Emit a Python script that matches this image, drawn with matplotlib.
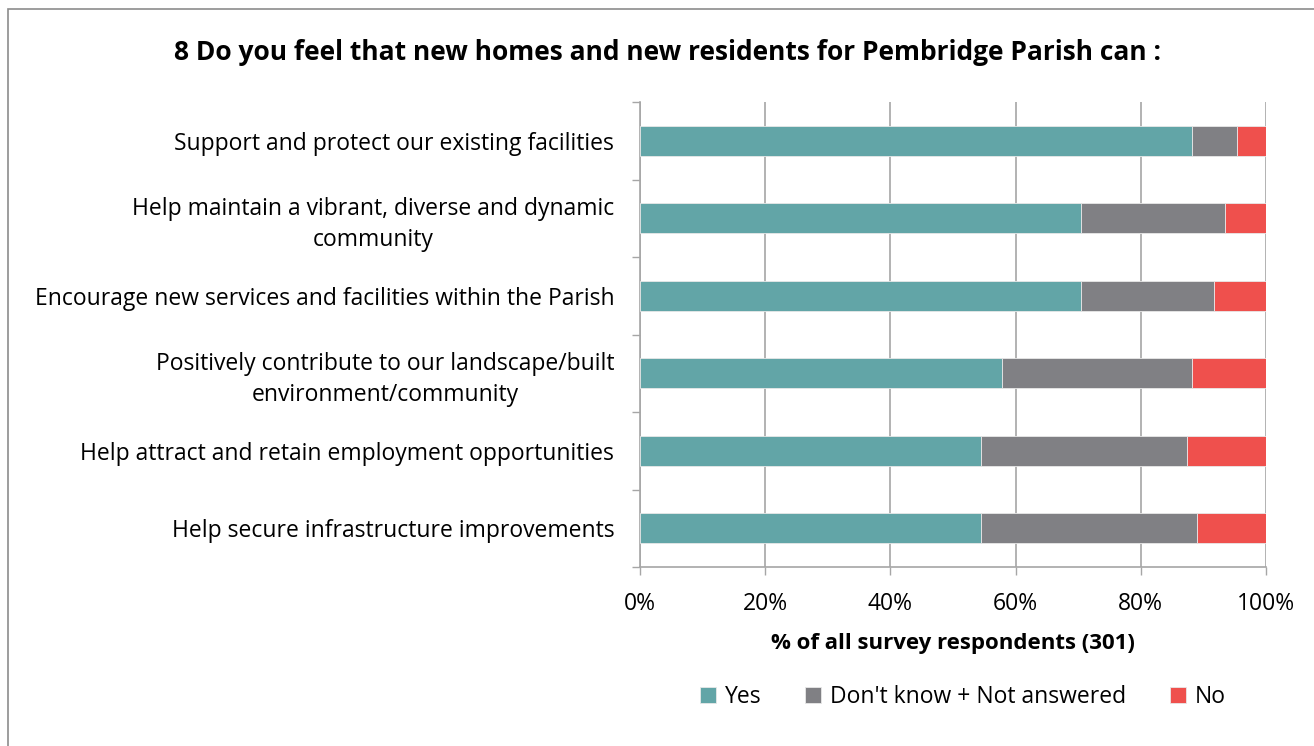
import numpy as np
import matplotlib.pyplot as plt
from matplotlib.patches import Rectangle

# Категории (снизу вверх как на графике)
categories = [
    'Help secure infrastructure improvements',
    'Help attract and retain employment opportunities',
    'Positively contribute to our landscape/built\nenvironment/community',
    'Encourage new services and facilities within the Parish',
    'Help maintain a vibrant, diverse and dynamic\ncommunity',
    'Support and protect our existing facilities',
]
yes = [54.5, 54.5, 57.9, 70.5, 70.5, 88.1]
dont_know = [34.5, 32.9, 30.2, 21.2, 22.9, 7.3]
no = [11.0, 12.6, 11.9, 8.3, 6.6, 4.6]

c_yes = '#62a5a7'
c_dk = '#808084'
c_no = '#ef504d'
grid_c = '#a6a6a6'

plt.rcParams['font.family'] = ['Open Sans', 'DejaVu Sans']

fig = plt.figure(figsize=(13.14, 7.46), dpi=100)
ax = fig.add_axes([640 / 1314, 1 - 567 / 746, 626 / 1314, 465 / 746])

y = np.arange(len(categories))
h = 0.39
ax.barh(y, yes, h, color=c_yes, label='Yes', edgecolor='#e8e8e8', linewidth=0.6, zorder=3)
ax.barh(y, dont_know, h, left=yes, color=c_dk, label="Don't know + Not answered",
        edgecolor='#e8e8e8', linewidth=0.6, zorder=3)
left2 = np.array(yes) + np.array(dont_know)
ax.barh(y, no, h, left=left2, color=c_no, label='No', edgecolor='#e8e8e8', linewidth=0.6, zorder=3)

ax.set_xlim(0, 100)
ax.set_ylim(-0.5, len(categories) - 0.5)
ax.set_xticks(np.arange(0, 101, 20))
ax.set_xticklabels([f'{v}%' for v in range(0, 101, 20)], fontsize=16.5)
ax.set_yticks(y)
ax.set_yticklabels(categories, fontsize=16.5, ha='right', multialignment='center', linespacing=1.4)
ax.tick_params(axis='y', length=0, pad=18.5)
ax.set_yticks(np.arange(-0.5, len(categories), 1), minor=True)
ax.tick_params(axis='y', which='minor', length=6, color=grid_c, width=1)
ax.tick_params(axis='x', length=6, color=grid_c, width=1, pad=12)

ax.grid(axis='x', color=grid_c, linewidth=1.2, zorder=0)
for s in ['top', 'right']:
    ax.spines[s].set_visible(False)
ax.spines['left'].set_color(grid_c)
ax.spines['bottom'].set_color(grid_c)
ax.spines['left'].set_linewidth(1.2)
ax.spines['bottom'].set_linewidth(1.2)

ax.set_xlabel('% of all survey respondents (301)', fontsize=16, fontweight='bold', labelpad=12)

fig.text(667 / 1314, 1 - 53 / 746, '8 Do you feel that new homes and new residents for Pembridge Parish can :',
         fontsize=19, fontweight='bold', ha='center', va='center')

ax.legend(loc='center', bbox_to_anchor=(963 / 1314, 1 - 697 / 746), bbox_transform=fig.transFigure,
          ncol=3, frameon=False, fontsize=16.5, handlelength=0.7, handleheight=0.7,
          handletextpad=0.4, columnspacing=1.9)

fig.patches.append(Rectangle((8 / 1314, -0.1), 1.2, 1 - 9 / 746 + 0.1, transform=fig.transFigure,
                             fill=False, edgecolor='#8c8c8c', linewidth=1.2))

fig.savefig('out.png', dpi=100)
